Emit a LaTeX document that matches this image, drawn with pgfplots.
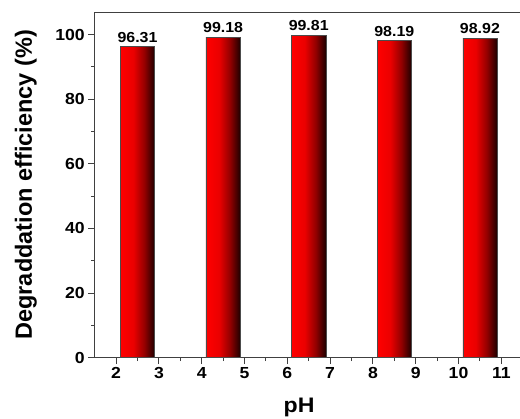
\documentclass[border=0pt]{standalone}
\usepackage{fontspec}
\setmainfont{Liberation Sans}[FakeStretch=1.1]
\newfontfamily\labfont{Liberation Sans}
\usepackage{pgfplots}
\pgfplotsset{compat=1.18}
\usetikzlibrary{calc}

\pgfdeclarehorizontalshading{barshade}{100bp}{color(0bp)=(red); color(25bp)=(red); color(44bp)=(red!92!black); color(60bp)=(red!58!black); color(75bp)=(black!88!red); color(100bp)=(black!88!red)}

% one bar per plot so that each bar gets its own shading
\pgfplotsset{effbar/.style={ybar, bar width=0.8, bar shift=0pt, draw=black!70, line width=0.6pt,
  shade, shading=barshade,
  point meta=explicit symbolic, nodes near coords,
  every node near coord/.style={font=\bfseries\fontsize{14.5}{16}\selectfont, text=black, anchor=south, inner sep=4pt}}}

\begin{document}
\begin{tikzpicture}
\begin{axis}[
  scale only axis,
  width=425.9pt, height=345.7pt,
  xmin=1.5, xmax=11.45, ymin=0, ymax=107,
  axis x line*=box, axis y line*=left,
  axis line style={draw=black!75, line width=0.9pt},
  xtick={2,...,11}, ytick={0,20,...,100},
  minor x tick num=1, minor y tick num=1,
  tick align=outside, xtick pos=left, ytick pos=left,
  major tick length=6.5pt, minor tick length=3.5pt,
  every tick/.style={draw=black!75, line width=0.9pt},
  /pgf/number format/assume math mode=true,
  ticklabel style={font=\bfseries\fontsize{16}{18}\selectfont},
  every axis x label/.style={at={(rel axis cs:0.48,0)}, yshift=-55pt, anchor=base},
  every axis y label/.style={at={(rel axis cs:0,0.5)}, xshift=-62.7pt, rotate=90, anchor=base},
  xlabel={\bfseries\fontsize{21}{24}\selectfont pH},
  ylabel={\labfont\bfseries\fontsize{23.5}{26}\selectfont Degraddation efficiency (\%)},
  clip=false,
]
\addplot[effbar] coordinates {(2.5,96.31) [96.31]};
\addplot[effbar] coordinates {(4.5,99.18) [99.18]};
\addplot[effbar] coordinates {(6.5,99.81) [99.81]};
\addplot[effbar] coordinates {(8.5,98.19) [98.19]};
\addplot[effbar] coordinates {(10.5,98.92) [98.92]};
\coordinate (o) at (rel axis cs:0,0);
\end{axis}
\pgfresetboundingbox
\path ($(o)+(-94.7pt,-61.3pt)$) rectangle ($(o)+(425.3pt,357.7pt)$);
\end{tikzpicture}
\end{document}
